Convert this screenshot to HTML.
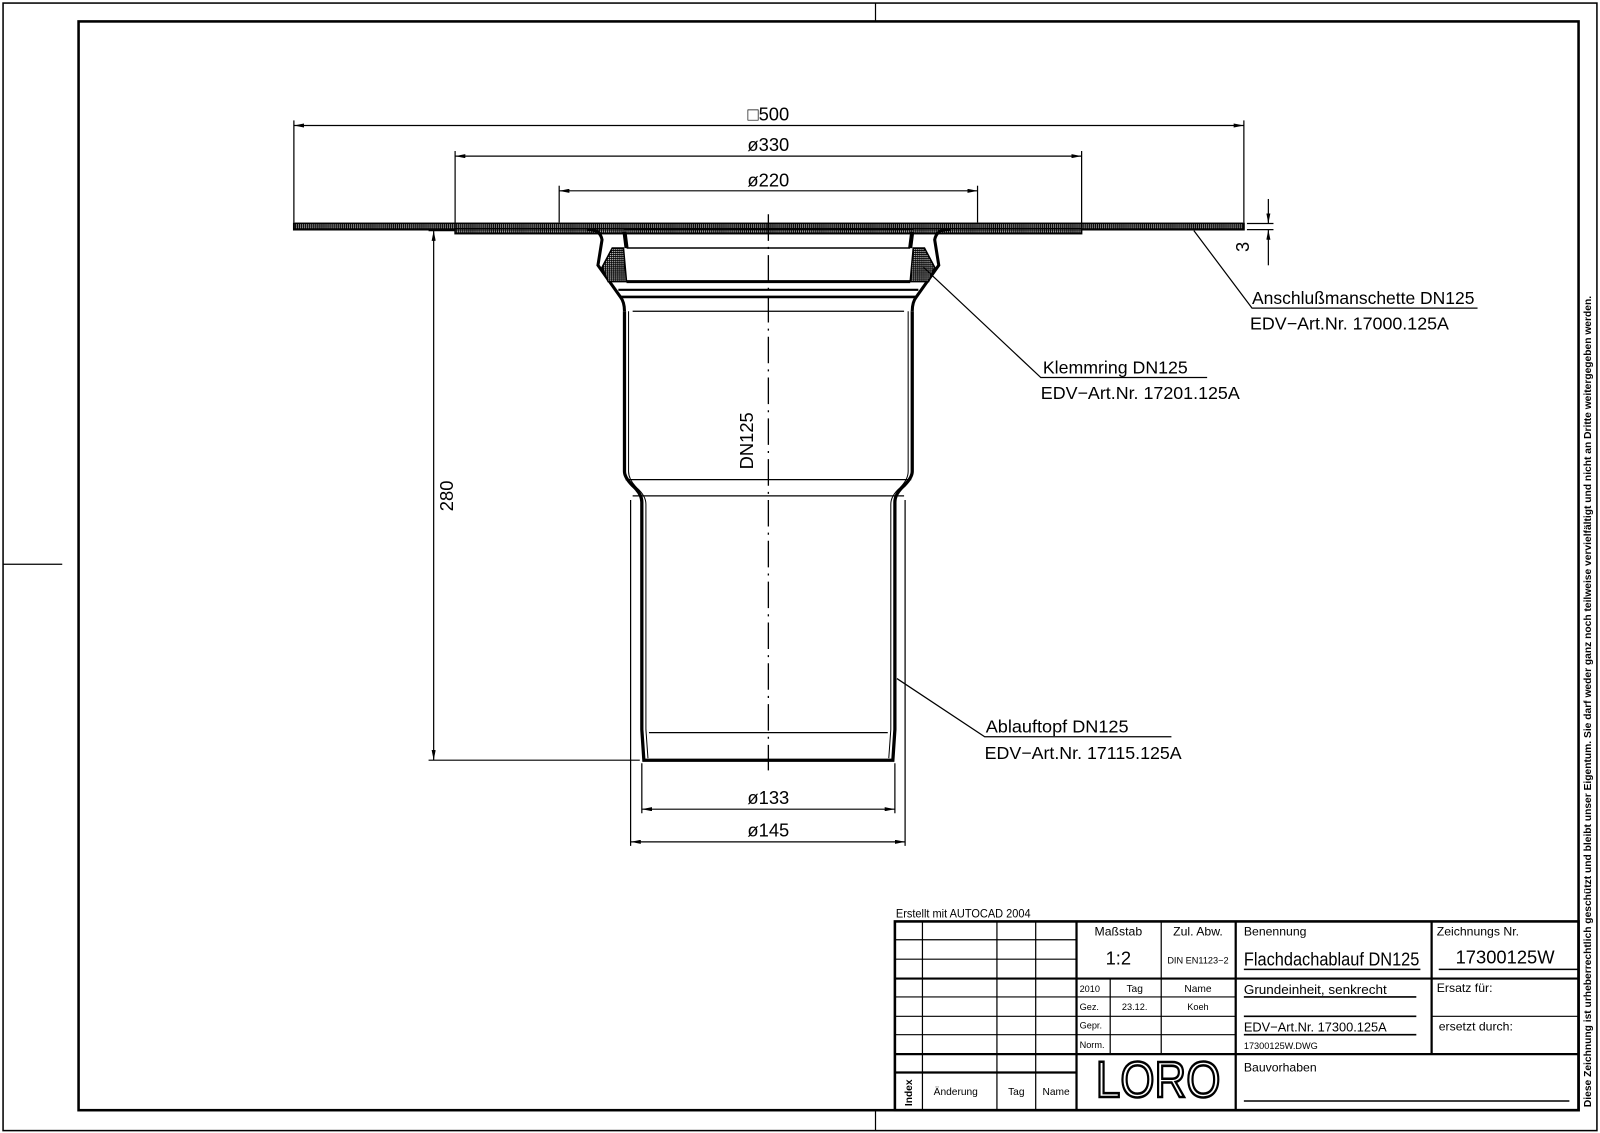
<!DOCTYPE html>
<html><head><meta charset="utf-8"><style>
html,body{margin:0;padding:0;background:#fff}
svg{display:block}
text{font-family:"Liberation Sans",sans-serif}
</style></head><body>
<svg width="1600" height="1133" viewBox="0 0 1600 1133" xmlns="http://www.w3.org/2000/svg">
<defs>
<pattern id="h" width="2" height="2" patternUnits="userSpaceOnUse"><rect width="2" height="2" fill="#000"/><rect width="1" height="1" fill="#fff"/></pattern>
<marker id="a" viewBox="0 0 10 4" refX="10" refY="2" markerWidth="10" markerHeight="4" orient="auto-start-reverse" markerUnits="userSpaceOnUse"><path d="M0,0L10,2L0,4z" fill="#000"/></marker>
</defs>
<g transform="scale(1.0204)" fill="none" stroke="#000">
<rect x="3" y="3" width="1562" height="1105" stroke-width="1.5"/>
<rect x="77" y="21" width="1470" height="1067" stroke-width="2.5"/>
<line x1="858" y1="3" x2="858" y2="21" stroke-width="1.2"/>
<line x1="858" y1="1088" x2="858" y2="1108" stroke-width="1.2"/>
<line x1="3" y1="553" x2="61" y2="553" stroke-width="1.2"/>

<rect x="288" y="219" width="931" height="6" fill="url(#h)" stroke-width="1.8"/>
<rect x="446" y="224" width="614" height="5" fill="url(#h)" stroke-width="1.5"/>
<path d="M575,225 Q588,224 590,235 L586,260 L608,291 Q612,296 612,305" stroke-width="3"/>
<path d="M931,225 Q918,224 916,235 L920,260 L898,291 Q894,296 894,305" stroke-width="3"/>
<path d="M600,243 L611,243 L614,276 L596,276 L590,262 Z" fill="url(#h)" stroke-width="1.5"/>
<path d="M906,243 L895,243 L892,276 L910,276 L916,262 Z" fill="url(#h)" stroke-width="1.5"/>
<path d="M612,227 L614,243 M894,227 L892,243" stroke-width="4"/>
<line x1="611" y1="224.5" x2="895" y2="224.5" stroke-width="2"/>
<line x1="614" y1="243" x2="892" y2="243" stroke-width="1.5"/>
<line x1="614" y1="276" x2="892" y2="276" stroke-width="3"/>
<line x1="606" y1="284" x2="900" y2="284" stroke-width="2"/>
<line x1="608" y1="291" x2="898" y2="291" stroke-width="2.5"/>
<line x1="620" y1="305" x2="886" y2="305" stroke-width="1.2"/>
<path d="M612,305 L612,462 Q612,468 620,476 Q629,484 629,492 L629,715 L631,745 L875,745 L877,715 L877,492 Q877,484 886,476 Q894,468 894,462 L894,305" stroke-width="3.2"/>
<path d="M616,305 L616,462 Q616,470 624,478 Q633,486 633,494 L633,715 L635,743 M871,743 L873,715 L873,494 Q873,486 882,478 Q890,470 890,462 L890,305" stroke-width="1"/>
<line x1="613" y1="470" x2="893" y2="470" stroke-width="1.2"/>
<line x1="620" y1="486" x2="886" y2="486" stroke-width="1.2"/>
<line x1="636" y1="718" x2="870" y2="718" stroke-width="1.2"/>
<line x1="753" y1="210" x2="753" y2="755" stroke-width="1.3" stroke-dasharray="26,6,2,6"/>

<g stroke-width="1.2">
<line x1="288" y1="118" x2="288" y2="218"/><line x1="1219" y1="118" x2="1219" y2="218"/>
<line x1="288" y1="123" x2="1219" y2="123" marker-start="url(#a)" marker-end="url(#a)"/>
<line x1="446" y1="148" x2="446" y2="223"/><line x1="1060" y1="148" x2="1060" y2="223"/>
<line x1="446" y1="153" x2="1060" y2="153" marker-start="url(#a)" marker-end="url(#a)"/>
<line x1="548" y1="182" x2="548" y2="218"/><line x1="958" y1="182" x2="958" y2="218"/>
<line x1="548" y1="187" x2="958" y2="187" marker-start="url(#a)" marker-end="url(#a)"/>
<line x1="420" y1="226" x2="446" y2="226"/><line x1="420" y1="745" x2="627" y2="745"/>
<line x1="425" y1="226" x2="425" y2="745" marker-start="url(#a)" marker-end="url(#a)"/>
<line x1="629" y1="748" x2="629" y2="797"/><line x1="877" y1="748" x2="877" y2="797"/>
<line x1="629" y1="793" x2="877" y2="793" marker-start="url(#a)" marker-end="url(#a)"/>
<line x1="618" y1="490" x2="618" y2="829"/><line x1="887" y1="490" x2="887" y2="829"/>
<line x1="618" y1="825" x2="887" y2="825" marker-start="url(#a)" marker-end="url(#a)"/>
<line x1="1222" y1="219" x2="1248" y2="219"/><line x1="1222" y1="225" x2="1248" y2="225"/>
<line x1="1243" y1="195" x2="1243" y2="219" marker-end="url(#a)"/>
<line x1="1243" y1="260" x2="1243" y2="225" marker-end="url(#a)"/>
<polyline points="1170,226 1227,302 1448,302"/>
<polyline points="905,262 1020,370 1183,370"/>
<polyline points="879,665 965,722 1148,722"/>
</g>

<g stroke-width="1.2">
<rect x="877" y="903" width="670" height="185" stroke-width="2.5"/>
<path d="M904,903V1088M977,903V1088M1015,903V1088M1055,903V1088M877,921H1055M877,940H1055M877,959H1547M877,977H1211M877,996H1211M877,1014H1211M877,1033H1547M877,1051H1055M1088,959V1033M1138,903V1033M1211,903V1088M1403,903V1033M1403,996H1547" />
<path d="M877,959H1547M877,1033H1547M877,1051H1055M1055,903V1088M1211,903V1088M1403,903V1033" stroke-width="2.2"/>
<path d="M1219,950H1392M1410,950H1547M1219,977H1388M1219,996H1388M1219,1014H1388M1219,1079H1538" stroke-width="1.5"/>
</g>
</g>
<g transform="scale(1.0204)" font-size="17" fill="#000">
<text x="753" y="118" text-anchor="middle" font-size="18">□500</text>
<text x="753" y="148" text-anchor="middle" font-size="18">ø330</text>
<text x="753" y="183" text-anchor="middle" font-size="18">ø220</text>
<text x="753" y="788" text-anchor="middle" font-size="18">ø133</text>
<text x="753" y="820" text-anchor="middle" font-size="18">ø145</text>
<text transform="translate(444,486) rotate(-90)" text-anchor="middle" font-size="18">280</text>
<text transform="translate(738,432) rotate(-90)" text-anchor="middle" font-size="18">DN125</text>
<text transform="translate(1224,242) rotate(-90)" text-anchor="middle" font-size="18">3</text>
<text x="1227" y="298" textLength="218" lengthAdjust="spacingAndGlyphs">Anschlußmanschette DN125</text>
<text x="1225" y="323" textLength="195" lengthAdjust="spacingAndGlyphs">EDV−Art.Nr. 17000.125A</text>
<text x="1022" y="366" textLength="142" lengthAdjust="spacingAndGlyphs">Klemmring DN125</text>
<text x="1020" y="391" textLength="195" lengthAdjust="spacingAndGlyphs">EDV−Art.Nr. 17201.125A</text>
<text x="966" y="718" textLength="140" lengthAdjust="spacingAndGlyphs">Ablauftopf DN125</text>
<text x="965" y="744" textLength="193" lengthAdjust="spacingAndGlyphs">EDV−Art.Nr. 17115.125A</text>

<text x="878" y="899" font-size="12" textLength="132" lengthAdjust="spacingAndGlyphs">Erstellt mit AUTOCAD 2004</text>
<text x="1096" y="917" font-size="12" text-anchor="middle">Maßstab</text>
<text x="1096" y="945" font-size="18" text-anchor="middle">1:2</text>
<text x="1174" y="917" font-size="12" text-anchor="middle">Zul. Abw.</text>
<text x="1174" y="944" font-size="9" text-anchor="middle">DIN EN1123−2</text>
<text x="1219" y="917" font-size="12">Benennung</text>
<text x="1219" y="946" font-size="18" textLength="172" lengthAdjust="spacingAndGlyphs">Flachdachablauf DN125</text>
<text x="1408" y="917" font-size="12">Zeichnungs Nr.</text>
<text x="1475" y="944" font-size="18" text-anchor="middle">17300125W</text>
<text x="1058" y="972" font-size="9">2010</text>
<text x="1112" y="972" font-size="10" text-anchor="middle">Tag</text>
<text x="1174" y="972" font-size="10" text-anchor="middle">Name</text>
<text x="1058" y="990" font-size="9">Gez.</text>
<text x="1112" y="990" font-size="9" text-anchor="middle">23.12.</text>
<text x="1174" y="990" font-size="9" text-anchor="middle">Koeh</text>
<text x="1058" y="1008" font-size="9">Gepr.</text>
<text x="1058" y="1027" font-size="9">Norm.</text>
<text x="1219" y="974" font-size="13" textLength="140" lengthAdjust="spacingAndGlyphs">Grundeinheit, senkrecht</text>
<text x="1219" y="1011" font-size="13" textLength="140" lengthAdjust="spacingAndGlyphs">EDV−Art.Nr. 17300.125A</text>
<text x="1219" y="1028" font-size="9">17300125W.DWG</text>
<text x="1219" y="1050" font-size="12">Bauvorhaben</text>
<text x="1408" y="972" font-size="12">Ersatz für:</text>
<text x="1410" y="1010" font-size="12">ersetzt durch:</text>
<text x="915" y="1073" font-size="10">Änderung</text>
<text x="996" y="1073" font-size="10" text-anchor="middle">Tag</text>
<text x="1035" y="1073" font-size="10" text-anchor="middle">Name</text>
<text transform="translate(894,1084) rotate(-90)" font-size="10" font-weight="bold">Index</text>
<text x="1135" y="1075" font-size="50" text-anchor="middle" style="fill:#fff;stroke:#000;stroke-width:2.5" textLength="122" lengthAdjust="spacingAndGlyphs">LORO</text>
<text transform="translate(1559,1085) rotate(-90)" font-size="9.5" font-weight="bold" textLength="795" lengthAdjust="spacingAndGlyphs">Diese Zeichnung ist urheberrechtlich geschützt und bleibt unser Eigentum. Sie darf weder ganz noch teilweise vervielfältigt und nicht an Dritte weitergegeben werden.</text>
</g>
</svg>
</body></html>
